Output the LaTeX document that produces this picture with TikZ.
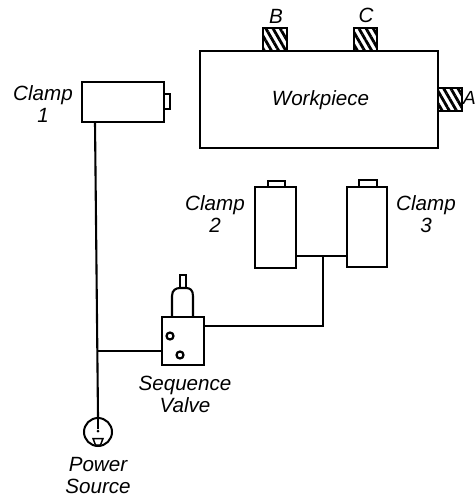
\documentclass[tikz,border=0pt]{standalone}
\usepackage{fontspec}
\setmainfont{Liberation Sans}
\usetikzlibrary{patterns.meta}
\tikzset{
  x=1pt,y=-1pt,
  body/.style={draw=black,line width=2.1pt,fill=white,inner sep=0pt,outer sep=0pt},
  tabbox/.style={body,line width=1.9pt,pattern={Lines[angle=-60,distance=6.2pt,line width=2.8pt]},pattern color=black},
  capbox/.style={body,line width=2.4pt},
  pipe/.style={draw=black,line width=2.1pt},
  hole/.style={draw=black,line width=2.2pt,circle,minimum size=7pt,inner sep=0pt},
  lbl/.style={font=\fontsize{20.6}{22}\selectfont\itshape,inner sep=0pt,align=center,text=black}
}
\begin{document}
\begin{tikzpicture}
\useasboundingbox (0,0) rectangle (476,498);
% workpiece and tabs
\node[tabbox,minimum width=24pt,minimum height=23pt] (tabB) at (275,39.5) {};
\node[tabbox,minimum width=23pt,minimum height=23pt] (tabC) at (365.5,39.5) {};
\node[tabbox,minimum width=24pt,minimum height=23pt] (tabA) at (450,99.5) {};
\node[body,minimum width=238pt,minimum height=97pt] (work) at (319,99.5) {};
\node[lbl] (tWork) at (320.5,100) {Workpiece};
\node[lbl] (tB) at (276,16) {B};
\node[lbl] (tC) at (366,15) {C};
\node[lbl,font=\fontsize{19}{22}\selectfont\itshape] (tA) at (469.5,98) {A};
% clamp 1
\node[capbox,minimum width=6pt,minimum height=15pt] (knob1) at (167,101.5) {};
\node[body,minimum width=82pt,minimum height=40pt] (clamp1) at (123,102) {};
\node[lbl] (tC1) at (43,104) {Clamp\\1};
% clamps 2 and 3
\node[capbox,minimum width=17pt,minimum height=6pt] (cap2) at (276.5,184) {};
\node[body,minimum width=41pt,minimum height=81pt] (clamp2) at (275.5,227.5) {};
\node[capbox,minimum width=18pt,minimum height=7pt] (cap3) at (368,183.5) {};
\node[body,minimum width=40pt,minimum height=80pt] (clamp3) at (367,227) {};
\node[lbl] (tC2) at (215,214) {Clamp\\2};
\node[lbl] (tC3) at (426,214) {Clamp\\3};
% valve
\node[capbox,minimum width=6pt,minimum height=14pt] (stem) at (183,282) {};
\draw[body] (172,317) -- (172,296) .. controls (172,290) and (176,288) .. (180,288) -- (186,288) .. controls (190,288) and (193,290) .. (193,296) -- (193,317);
\node[body,minimum width=42pt,minimum height=48pt] (valve) at (183,341) {};
\node[hole] (h1) at (170,336) {};
\node[hole] (h2) at (180,355) {};
\node[lbl] (tSeq) at (185,394) {Sequence\\Valve};
% power source
\node[draw=black,line width=2pt,circle,minimum size=28pt,inner sep=0pt] (pwr) at (98,432) {};
\node[fill=black,circle,minimum size=3pt,inner sep=0pt] (pdot) at (98,431) {};
\draw[line width=1.5pt] (93,438.5) -- (103,438.5) -- (100.5,445) -- (95.5,445) -- cycle;
\node[lbl] (tPwr) at (98,476) {Power\\Source};
% connectors
\coordinate (c1out) at (95,122);
\coordinate (j1) at (97,351);
\coordinate (v2) at (204,326);
\coordinate (j2) at (323,256);
\coordinate (c2r) at (296,256);
\coordinate (c3l) at (347,256);
\draw[pipe] (c1out) -- (pwr.north);
\draw[pipe] (j1) -- (j1 -| valve.west);
\draw[pipe] (v2) -| (j2);
\draw[pipe] (c2r) -- (c3l);
\draw[line width=1.2pt] (pwr.north) -- (pdot);
\end{tikzpicture}
\end{document}
